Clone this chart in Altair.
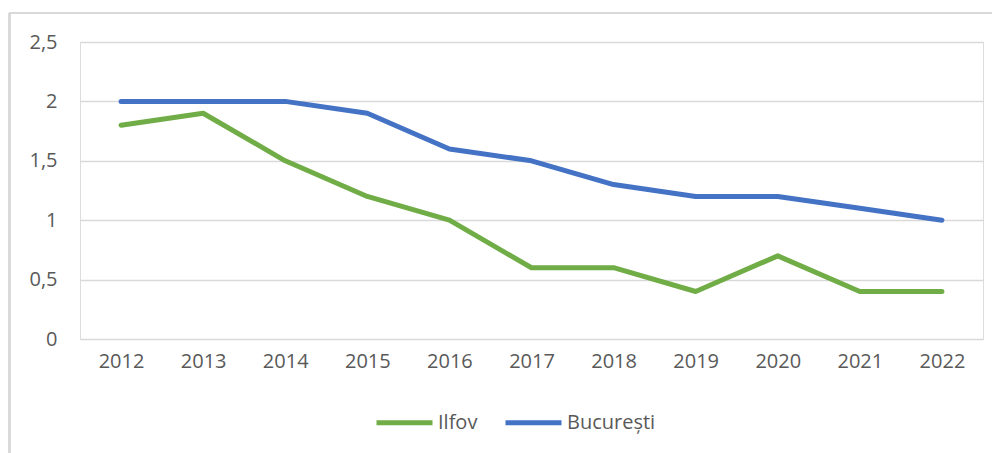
import altair as alt
import pandas as pd

years = [str(y) for y in range(2012, 2023)]
ilfov = [1.8, 1.9, 1.5, 1.2, 1.0, 0.6, 0.6, 0.4, 0.7, 0.4, 0.4]
bucuresti = [2.0, 2.0, 2.0, 1.9, 1.6, 1.5, 1.3, 1.2, 1.2, 1.1, 1.0]
series_names = ["Ilfov", "București"]
series_colors = ["#70AD47", "#4472C4"]
y_ticks = [0, 0.5, 1, 1.5, 2, 2.5]

rows = []
for name, vals in zip(series_names, [ilfov, bucuresti]):
    for y, v in zip(years, vals):
        rows.append({"An": y, "Valoare": v, "Serie": name})
df = pd.DataFrame(rows)

FONT = "Open Sans"
TXT = "#595959"
FS = 20

lines = alt.Chart(df).mark_line(strokeWidth=5, strokeCap="round", strokeJoin="round").encode(
    x=alt.X("An:O", sort=years, scale=alt.Scale(type="point", padding=0.5),
            axis=alt.Axis(title=None, labelAngle=0, domain=False, ticks=False, labelPadding=12,
                          labelFontSize=FS, labelColor=TXT, labelFont=FONT)),
    y=alt.Y("Valoare:Q", scale=alt.Scale(domain=[0, 2.5], nice=False),
            axis=alt.Axis(title=None, values=y_ticks, domain=False, ticks=False, labelPadding=23,
                          labelFontSize=FS, labelColor=TXT, labelFont=FONT,
                          gridColor="#D9D9D9", gridWidth=1.5,
                          labelExpr="replace(format(datum.value, '~g'), '.', ',')")),
    color=alt.Color("Serie:N", sort=series_names,
                    scale=alt.Scale(domain=series_names, range=series_colors),
                    legend=alt.Legend(title=None, orient="none", direction="horizontal",
                                      legendX=294, legendY=350,
                                      symbolType="stroke", symbolSize=3136, symbolStrokeWidth=5,
                                      labelFontSize=FS, labelColor=TXT, labelFont=FONT,
                                      labelOffset=3, columnPadding=17)),
    order=alt.Order("An:O"),
)

frame_top = alt.Chart(df).mark_rule(color="#D9D9D9", strokeWidth=1.5).encode(
    x=alt.value(-71), x2=alt.value(930), y=alt.value(-29))
frame_left = alt.Chart(df).mark_rule(color="#D9D9D9", strokeWidth=2).encode(
    x=alt.value(-70.5), y=alt.value(-29), y2=alt.value(430))

chart = alt.layer(frame_top, frame_left, lines).properties(
    width=903, height=297,
    autosize=alt.AutoSizeParams(type="none"),
    padding={"left": 72, "top": 34, "right": 9, "bottom": 120},
).configure_view(stroke=None).configure(font=FONT)

chart.save("out.html", embed_options={"renderer": "svg", "actions": False})
